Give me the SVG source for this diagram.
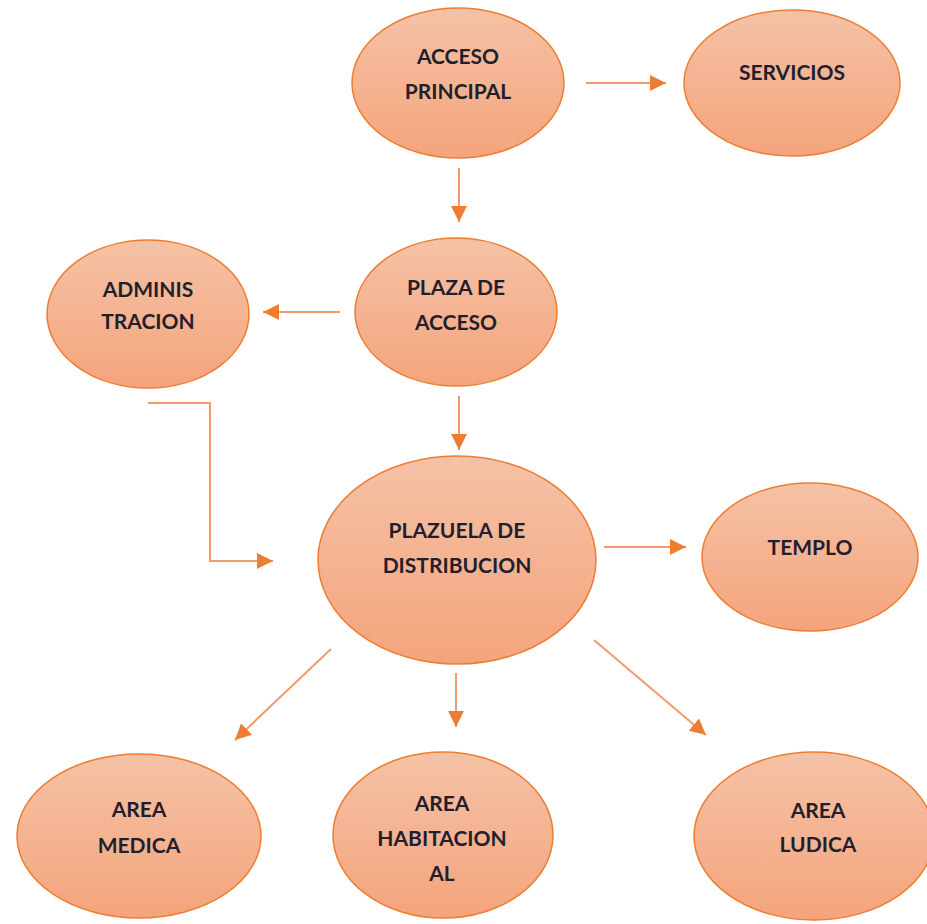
<svg xmlns="http://www.w3.org/2000/svg" width="927" height="924" viewBox="0 0 927 924">
<defs>
<linearGradient id="g" x1="0" y1="0" x2="0" y2="1">
<stop offset="0" stop-color="#f5c2a6"/>
<stop offset="1" stop-color="#f4a47c"/>
</linearGradient>
<marker id="ah" viewBox="0 0 10 10" refX="10" refY="5" markerWidth="16" markerHeight="16" markerUnits="userSpaceOnUse" orient="auto">
<path d="M0,0 L10,5 L0,10 z" fill="#ed7d31"/>
</marker>
<style>
.n ellipse{fill:url(#g);stroke:#ed7d31;stroke-width:1.5}
.n text{font-family:Lato,"Open Sans","Liberation Sans",sans-serif;font-weight:bold;font-size:21px;fill:#1f1f2e;text-anchor:middle}
.c path{fill:none;stroke:#f19a6a;stroke-width:2;marker-end:url(#ah)}
</style>
</defs>
<rect width="927" height="924" fill="#ffffff"/>
<g id="connectors" class="c">
<path d="M586,83 H666"/>
<path d="M459,168 V222"/>
<path d="M340,312 H263"/>
<path d="M459,396 V450"/>
<path d="M148,403 H210 V561 H273"/>
<path d="M604,547 H686"/>
<path d="M331,649 L235,740"/>
<path d="M456,673 V727"/>
<path d="M594,640 L706,735"/>
</g>
<g id="acceso-principal" class="n">
<ellipse cx="458" cy="83" rx="106" ry="75"/>
<text x="458" y="64">ACCESO</text>
<text x="458" y="99">PRINCIPAL</text>
</g>
<g id="servicios" class="n">
<ellipse cx="792" cy="83" rx="108" ry="73"/>
<text x="792" y="80">SERVICIOS</text>
</g>
<g id="plaza-de-acceso" class="n">
<ellipse cx="456" cy="312" rx="101" ry="74"/>
<text x="456" y="295">PLAZA DE</text>
<text x="456" y="330">ACCESO</text>
</g>
<g id="administracion" class="n">
<ellipse cx="148" cy="314" rx="101" ry="74"/>
<text x="148" y="297">ADMINIS</text>
<text x="148" y="329">TRACION</text>
</g>
<g id="plazuela-de-distribucion" class="n">
<ellipse cx="457" cy="560" rx="139" ry="104"/>
<text x="457" y="538">PLAZUELA DE</text>
<text x="457" y="573">DISTRIBUCION</text>
</g>
<g id="templo" class="n">
<ellipse cx="810" cy="557" rx="108" ry="74"/>
<text x="810" y="555">TEMPLO</text>
</g>
<g id="area-medica" class="n">
<ellipse cx="139" cy="836" rx="122" ry="82"/>
<text x="139" y="817">AREA</text>
<text x="139" y="853">MEDICA</text>
</g>
<g id="area-habitacional" class="n">
<ellipse cx="443" cy="835" rx="110" ry="83"/>
<text x="442" y="811">AREA</text>
<text x="442" y="846">HABITACION</text>
<text x="442" y="881">AL</text>
</g>
<g id="area-ludica" class="n">
<ellipse cx="814" cy="836" rx="120" ry="84"/>
<text x="818" y="818">AREA</text>
<text x="818" y="852">LUDICA</text>
</g>
</svg>
